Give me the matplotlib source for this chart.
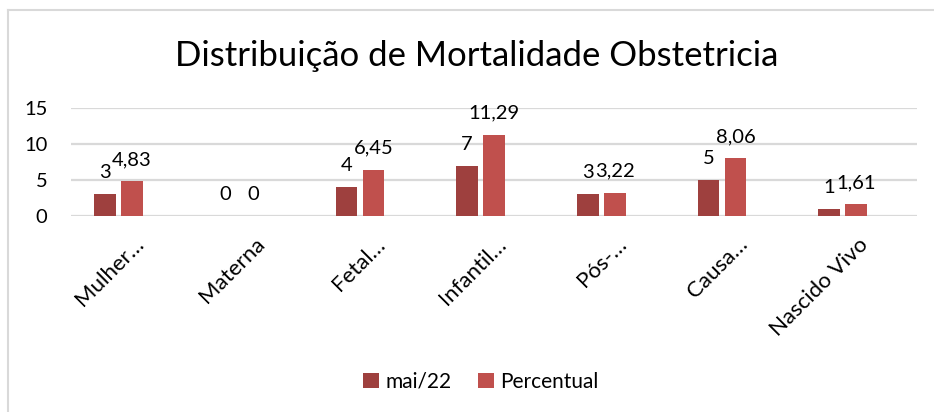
import matplotlib.pyplot as plt
import matplotlib.transforms as mtransforms
from matplotlib.lines import Line2D
import numpy as np

plt.rcParams['font.family'] = ['Lato', 'DejaVu Sans']

categorias = ['Mulher…', 'Materna', 'Fetal…', 'Infantil…', 'Pós-…', 'Causa…', 'Nascido Vivo']
mai22 = [3, 0, 4, 7, 3, 5, 1]
percentual = [4.83, 0, 6.45, 11.29, 3.22, 8.06, 1.61]
series_nomes = ['mai/22', 'Percentual']

COR_ESCURA = '#9E403E'
COR_CLARA = '#C0504D'
W, H = 934, 412


def fmt(v):
    if float(v).is_integer():
        return str(int(v))
    return f'{v:.2f}'.replace('.', ',')


def main():
    fig = plt.figure(figsize=(W / 100, H / 100), dpi=100)
    ax = fig.add_axes([71 / W, 1 - 216 / H, (917 - 71) / W, (216 - 108) / H])

    x = np.arange(len(categorias))
    larg = 0.18
    desl = 0.112
    b1 = ax.bar(x - desl, mai22, larg, color=COR_ESCURA, label=series_nomes[0], zorder=3)
    b2 = ax.bar(x + desl, percentual, larg, color=COR_CLARA, label=series_nomes[1], zorder=3)

    for barras, vals in ((b1, mai22), (b2, percentual)):
        for r, v in zip(barras, vals):
            ax.annotate(fmt(v), (r.get_x() + r.get_width() / 2, v),
                        xytext=(0, 13), textcoords='offset pixels',
                        ha='center', va='bottom', fontsize=14.5, color='#000000')

    ax.set_xlim(-0.394, 6.615)
    ax.set_ylim(0, 15)
    ax.set_yticks([0, 5, 10, 15])
    ax.yaxis.grid(True, color='#D9D9D9', linewidth=1.6, zorder=0)
    for s in ax.spines.values():
        s.set_visible(False)
    ax.tick_params(axis='y', length=0, pad=17, labelsize=14.5)
    ax.tick_params(axis='x', length=0, pad=8, labelsize=16)

    ax.set_xticks(x)
    ax.set_xticklabels(categorias, rotation=45, ha='right', va='center',
                       rotation_mode='anchor')
    off = mtransforms.ScaledTranslation(22 / 100, -14 / 100, fig.dpi_scale_trans)
    for lbl in ax.get_xticklabels():
        lbl.set_transform(lbl.get_transform() + off)

    fig.text(477 / W, 1 - 56 / H, 'Distribuição de Mortalidade Obstetricia',
             ha='center', va='center', fontsize=25)

    fig.legend(handles=[b1, b2], loc='center', bbox_to_anchor=(481 / W, 1 - 382 / H),
               ncol=2, frameon=False, fontsize=15, handlelength=0.75, handleheight=0.75,
               handletextpad=0.3, columnspacing=1.3)

    # moldura do gráfico (só topo e lado esquerdo aparecem)
    fig.add_artist(Line2D([7.5 / W, 1], [1 - 9.5 / H, 1 - 9.5 / H],
                          transform=fig.transFigure, color='#D9D9D9', linewidth=1.5))
    fig.add_artist(Line2D([7.5 / W, 7.5 / W], [0, 1 - 9.5 / H],
                          transform=fig.transFigure, color='#D9D9D9', linewidth=1.5))

    fig.savefig('out.png', dpi=100)


if __name__ == '__main__':
    main()
